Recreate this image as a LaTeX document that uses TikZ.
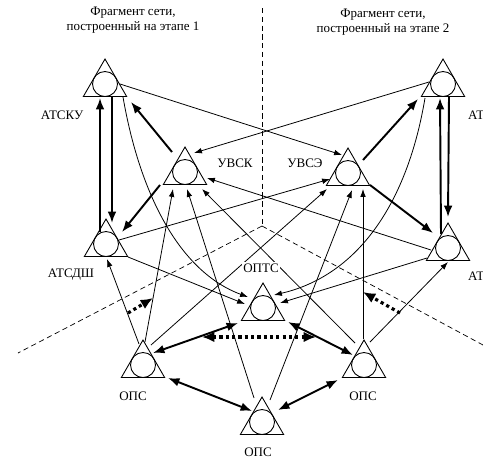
\documentclass[tikz,border=0pt]{standalone}
\usepackage{fontspec}
\setmainfont{Liberation Serif}
\usetikzlibrary{arrows.meta,shapes.geometric,calc}

\begin{document}
\begin{tikzpicture}[
  x=0.02cm, y=-0.02cm,
  station/.style={
    regular polygon, regular polygon sides=3, draw, line width=0.5pt,
    minimum size=1cm, inner sep=0pt
  },
  ring/.style={circle, draw, line width=0.5pt, minimum size=0.5cm, inner sep=0pt},
  tag/.style={font=\fontsize{7.4}{8.4}\selectfont, inner sep=1pt},
  heading/.style={tag, align=center},
  link/.style={line width=0.45pt, -{Latex[length=4.5pt,width=3.2pt]}},
  trunk/.style={line width=1.1pt, -{Latex[length=6.5pt,width=5pt]}},
  duplex/.style={line width=1.1pt, {Latex[length=6.5pt,width=5pt]}-{Latex[length=6.5pt,width=5pt]}},
  reserve/.style={line width=1.8pt, dash pattern=on 1.8pt off 1.8pt},
  border/.style={line width=0.4pt, dash pattern=on 3pt off 2pt}
]
\useasboundingbox (0,0) rectangle (483,461);

% --- Headings ---
\node[heading] (head1) at (133,20) {Фрагмент сети,\\построенный на этапе 1};
\node[heading] (head2) at (383,22) {Фрагмент сети,\\построенный на этапе 2};

% --- Stage borders ---
\coordinate (hub) at (262,226);
\coordinate (btop) at (262,8);
\coordinate (bleft) at (18,353);
\coordinate (bright) at (483,345);
\draw[border] (btop) -- (hub);
\draw[border] (hub) -- (bleft);
\draw[border] (hub) -- (bright);

% --- Stations ---
\node[station] (atsku)  at (105,84)  {};
\node[station] (atsx)   at (443,84)  {};
\node[station] (uvsk)   at (185,172) {};
\node[station] (uvse)   at (348,173) {};
\node[station] (atsdsh) at (106,244) {};
\node[station] (atsy)   at (448,248) {};
\node[station] (opts)   at (263,308) {};
\node[station] (ops1)   at (143,365) {};
\node[station] (ops2)   at (364,365) {};
\node[station] (ops3)   at (262,422) {};
\foreach \n in {atsku,atsx,uvsk,uvse,atsdsh,atsy,opts,ops1,ops2,ops3}
  \node[ring] (\n-r) at (\n.center) {};

% --- Thin links ---
\draw[link] ($(atsku)+(15,0)$) -- ($(uvse)+(-6,-18)$);
\draw[link] ($(atsx)+(-14,-2)$) -- ($(uvsk)+(9,-19)$);
\draw[link] ($(atsdsh)+(13,-4)$) -- ($(uvse)+(-18,6)$);
\draw[link] ($(atsy)+(-17,2)$) -- ($(uvsk)+(22,6)$);
\draw[link] ($(atsdsh)+(22,13)$) -- ($(opts)+(-18,-4)$);
\draw[link] ($(atsy)+(-21,10)$) -- ($(opts)+(17,-5)$);
\draw[link] ($(atsku)+(18,13)$) .. controls (140,195) and (180,272) .. ($(opts)+(-15,-11)$);
\draw[link] ($(atsx)+(-18,14)$) .. controls (408,200) and (360,275) .. ($(opts)+(11,-13)$);

\draw[link] ($(ops1)+(-4,-21)$) -- ($(atsdsh)+(1,15)$);
\draw[link] ($(ops1)+(2,-23)$) -- ($(uvsk)+(-12,17)$);
\draw[link] ($(ops1)+(8,-20)$) -- ($(uvse)+(-21,16)$);
\draw[link] ($(ops3)+(-8,-24)$) -- ($(uvsk)+(2,17)$);
\draw[link] ($(ops3)+(8,-22)$) -- ($(uvse)+(4,17)$);
\draw[link] ($(ops2)+(-9,-22)$) -- ($(uvsk)+(17,17)$);
\draw[link] ($(ops2)+(-1,-26)$) -- ($(uvse)+(15,16)$);
\draw[link] ($(ops2)+(6,-23)$) -- ($(atsy)+(0,14)$);

% --- Thick trunks ---
\draw[trunk] ($(uvsk)+(-13,-20)$) -- ($(atsku)+(26,18)$);
\draw[trunk] ($(uvse)+(15,-13)$) -- ($(atsx)+(-25,15)$);
\draw[trunk] ($(uvsk)+(-25,13)$) -- ($(atsdsh)+(16,-12)$);
\draw[trunk] ($(uvse)+(22,12)$) -- ($(atsy)+(-15,-15)$);
\draw[trunk] ($(atsdsh)+(-6,-12)$) -- ($(atsku)+(-5,14)$);
\draw[trunk] ($(atsku)+(7,13)$) -- ($(atsdsh)+(6,-21)$);
\draw[trunk] ($(atsy)+(-7,-14)$) -- ($(atsx)+(-3,14)$);
\draw[trunk] ($(atsx)+(6,13)$) -- ($(atsy)+(0,-31)$);

\draw[duplex] ($(ops1)+(10,-12)$) -- ($(opts)+(-25,15)$);
\draw[duplex] ($(opts)+(25,14)$) -- ($(ops2)+(-11,-10)$);
\draw[duplex] ($(ops1)+(25,13)$) -- ($(ops3)+(-10,-11)$);
\draw[duplex] ($(ops2)+(-26,15)$) -- ($(ops3)+(16,-12)$);

% --- Reserve (dotted) ---
\coordinate (resL0) at (128,313);
\coordinate (resL1) at (153,298);
\coordinate (resR0) at (400,313);
\coordinate (resR1) at (363,292);
\coordinate (resM0) at (202,337);
\coordinate (resM1) at (316,337);
\draw[reserve, -{Latex[length=7pt,width=6pt]}] (resL0) -- (resL1);
\draw[reserve, -{Latex[length=7pt,width=6pt]}] (resR0) -- (resR1);
\draw[reserve, {Latex[length=7pt,width=6pt]}-{Latex[length=7pt,width=6pt]}] (resM0) -- (resM1);

% --- Labels ---
\node[tag] (lbl-atsku)  at (62,115)  {АТСКУ};
\node[tag, anchor=west] (lbl-atsx) at (466,115) {АТ};
\node[tag] (lbl-uvsk)   at (235,163) {УВСК};
\node[tag] (lbl-uvse)   at (305,163) {УВСЭ};
\node[tag] (lbl-atsdsh) at (71,275)  {АТСДШ};
\node[tag, anchor=west] (lbl-atsy) at (466,276) {АТ};
\node[tag, fill=white] (lbl-opts) at (261,268) {ОПТС};
\node[tag] (lbl-ops1)   at (133,396) {ОПС};
\node[tag] (lbl-ops2)   at (363,396) {ОПС};
\node[tag] (lbl-ops3)   at (258,452) {ОПС};

\end{tikzpicture}
\end{document}
